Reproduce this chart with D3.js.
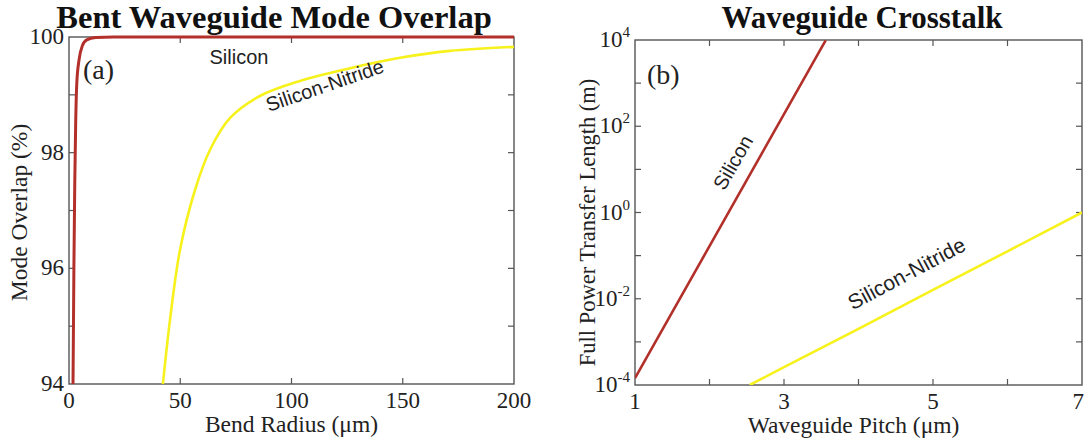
<!DOCTYPE html>
<html>
<head>
<meta charset="utf-8">
<script src="https://cdn.jsdelivr.net/npm/d3@7/dist/d3.min.js"></script>
<style>
  html, body { margin: 0; padding: 0; background: #fff; }
  svg { display: block; }
</style>
</head>
<body>
<svg id="fig" width="1084" height="442"></svg>
<script>
// ---- Panel (a): bent waveguide mode overlap ----
const bendRadiusSi = [1.8, 2.2, 2.6, 3.0, 3.5, 4.5, 6, 8, 12, 20, 60, 200];
const overlapSi    = [94, 96, 97.5, 98.5, 99.2, 99.6, 99.85, 99.95, 99.99, 100, 100, 100];
const bendRadiusSiN = [42.2, 45.4, 49.9, 56.6, 63.4, 72.4, 85.8, 103.8, 126.3, 148.8, 171.2, 200];
const overlapSiN    = [94, 95.11, 96.32, 97.35, 98.05, 98.6, 98.98, 99.24, 99.46, 99.64, 99.76, 99.83];
const radiusTicks = [0, 50, 100, 150, 200];
const overlapTicks = [94, 95, 96, 97, 98, 99, 100];
const overlapLabels = [94, 96, 98, 100];

// ---- Panel (b): waveguide crosstalk ----
const pitchSi = [1, 1.5, 2, 2.5, 3, 3.5, 3.56];
const transferSi = [1.45e-4, 4.9e-3, 0.166, 5.6, 190, 6500, 9800];
const pitchSiN = [2.54, 3, 4, 5, 6, 7];
const transferSiN = [1e-4, 2.6e-4, 2.0e-3, 0.016, 0.126, 1.0];
const pitchTicks = [1, 2, 3, 4, 5, 6, 7];
const pitchLabels = [1, 3, 5, 7];
const lengthTicks = [1e-4, 1e-3, 1e-2, 1e-1, 1, 10, 100, 1e3, 1e4];
const lengthLabelExp = [-4, -2, 0, 2, 4];

const RED = "#b3302a";
const YELLOW = "#f7f11c";
const FRAME = "#555";
const INK = "#222";
const SERIF = "'Liberation Serif', 'Times New Roman', serif";
const SANS = "'Liberation Sans', Arial, sans-serif";
const TICK_FS = 23;
const LABEL_FS = 23.5;

const svg = d3.select("#fig");

function frame(g, w, h) {
  g.append("rect").attr("x", 0).attr("y", 0).attr("width", w).attr("height", h)
    .attr("fill", "none").attr("stroke", FRAME).attr("stroke-width", 1.4);
}

function inwardTicks(g, x, y, w, h, xTicks, yTicks, len) {
  const t = g.append("g").attr("stroke", FRAME).attr("stroke-width", 1.2);
  xTicks.forEach(v => {
    t.append("line").attr("x1", x(v)).attr("x2", x(v)).attr("y1", h).attr("y2", h - len);
    t.append("line").attr("x1", x(v)).attr("x2", x(v)).attr("y1", 0).attr("y2", len);
  });
  yTicks.forEach(v => {
    t.append("line").attr("x1", 0).attr("x2", len).attr("y1", y(v)).attr("y2", y(v));
    t.append("line").attr("x1", w).attr("x2", w - len).attr("y1", y(v)).attr("y2", y(v));
  });
}

// ---------- Panel (a) ----------
{
  const L = 69, T = 37, W = 445, H = 347;
  const g = svg.append("g").attr("transform", `translate(${L},${T})`);
  const x = d3.scaleLinear().domain([0, 200]).range([0, W]);
  const y = d3.scaleLinear().domain([94, 100]).range([H, 0]);

  g.append("clipPath").attr("id", "clipA").append("rect")
    .attr("x", -2).attr("y", -3).attr("width", W + 4).attr("height", H + 3);

  frame(g, W, H);
  inwardTicks(g, x, y, W, H, radiusTicks.slice(1, -1), overlapTicks.slice(1, -1), 6);

  const smoothGen = d3.line().x(d => x(d[0])).y(d => y(d[1])).curve(d3.curveCatmullRom.alpha(0.5));
  const monoGen = d3.line().x(d => x(d[0])).y(d => y(d[1])).curve(d3.curveMonotoneX);
  g.append("path").datum(d3.zip(bendRadiusSiN, overlapSiN)).attr("d", smoothGen)
    .attr("fill", "none").attr("stroke", YELLOW).attr("stroke-width", 2.6)
    .attr("clip-path", "url(#clipA)");
  g.append("path").datum(d3.zip(bendRadiusSi, overlapSi)).attr("d", monoGen)
    .attr("fill", "none").attr("stroke", RED).attr("stroke-width", 3)
    .attr("clip-path", "url(#clipA)");

  // tick labels
  radiusTicks.forEach(v => {
    g.append("text").attr("x", x(v)).attr("y", H + 24).attr("text-anchor", "middle")
      .attr("font-family", SERIF).attr("font-size", TICK_FS).attr("fill", INK).text(v);
  });
  overlapLabels.forEach(v => {
    g.append("text").attr("x", -5).attr("y", y(v) + 7).attr("text-anchor", "end")
      .attr("font-family", SERIF).attr("font-size", TICK_FS).attr("fill", INK).text(v);
  });

  g.append("text").attr("x", W / 2).attr("y", H + 48).attr("text-anchor", "middle")
    .attr("font-family", SERIF).attr("font-size", LABEL_FS).attr("fill", INK).text("Bend Radius (μm)");
  g.append("text").attr("transform", `translate(${-42},${H / 2 + 2}) rotate(-90)`)
    .attr("text-anchor", "middle").attr("font-family", SERIF).attr("font-size", LABEL_FS)
    .attr("fill", INK).text("Mode Overlap (%)");

  svg.append("text").attr("x", 274).attr("y", 28).attr("text-anchor", "middle")
    .attr("font-family", SERIF).attr("font-weight", "bold").attr("font-size", 32.5)
    .attr("fill", "#111").text("Bent Waveguide Mode Overlap");

  g.append("text").attr("x", 14).attr("y", 42).attr("font-family", SERIF)
    .attr("font-size", 28).attr("fill", INK).text("(a)");
  g.append("text").attr("x", 170).attr("y", 27).attr("text-anchor", "middle")
    .attr("font-family", SANS).attr("font-size", 20).attr("fill", INK).text("Silicon");
  g.append("text").attr("transform", `translate(${258},${55}) rotate(-19)`)
    .attr("text-anchor", "middle").attr("font-family", SANS).attr("font-size", 20)
    .attr("fill", INK).text("Silicon-Nitride");
}

// ---------- Panel (b) ----------
{
  const L = 635, T = 40, W = 447, H = 345;
  const g = svg.append("g").attr("transform", `translate(${L},${T})`);
  const x = d3.scaleLinear().domain([1, 7]).range([0, W]);
  const y = d3.scaleLog().domain([1e-4, 1e4]).range([H, 0]);

  g.append("clipPath").attr("id", "clipB").append("rect")
    .attr("x", 0).attr("y", 0).attr("width", W).attr("height", H);

  frame(g, W, H);
  inwardTicks(g, x, y, W, H, pitchTicks.slice(1, -1), lengthTicks.slice(1, -1), 6);

  const lineGen = d3.line().x(d => x(d[0])).y(d => y(d[1]));
  g.append("path").datum(d3.zip(pitchSiN, transferSiN)).attr("d", lineGen)
    .attr("fill", "none").attr("stroke", YELLOW).attr("stroke-width", 2.6)
    .attr("clip-path", "url(#clipB)");
  g.append("path").datum(d3.zip(pitchSi, transferSi)).attr("d", lineGen)
    .attr("fill", "none").attr("stroke", RED).attr("stroke-width", 2.6)
    .attr("clip-path", "url(#clipB)");

  pitchLabels.forEach(v => {
    const last = v === pitchLabels[pitchLabels.length - 1];
    g.append("text").attr("x", last ? W + 2 : x(v)).attr("y", H + 24)
      .attr("text-anchor", last ? "end" : "middle")
      .attr("font-family", SERIF).attr("font-size", TICK_FS).attr("fill", INK).text(v);
  });
  lengthLabelExp.forEach(e => {
    const t = g.append("text").attr("x", -5).attr("y", y(Math.pow(10, e)) + 7)
      .attr("text-anchor", "end").attr("font-family", SERIF).attr("font-size", TICK_FS)
      .attr("fill", INK);
    t.append("tspan").text("10");
    t.append("tspan").attr("font-size", 15).attr("dy", -10).text(e < 0 ? "-" + (-e) : String(e));
  });

  g.append("text").attr("x", W / 2 - 5).attr("y", H + 48).attr("text-anchor", "middle")
    .attr("font-family", SERIF).attr("font-size", LABEL_FS).attr("fill", INK).text("Waveguide Pitch (μm)");
  g.append("text").attr("transform", `translate(${-40},${H / 2 + 10}) rotate(-90)`)
    .attr("text-anchor", "middle").attr("font-family", SERIF).attr("font-size", 22.5)
    .attr("fill", INK).text("Full Power Transfer Length (m)");

  svg.append("text").attr("x", 862).attr("y", 28).attr("text-anchor", "middle")
    .attr("font-family", SERIF).attr("font-weight", "bold").attr("font-size", 31)
    .attr("fill", "#111").text("Waveguide Crosstalk");

  g.append("text").attr("x", 12).attr("y", 44).attr("font-family", SERIF)
    .attr("font-size", 28).attr("fill", INK).text("(b)");
  g.append("text").attr("transform", `translate(${104},${126}) rotate(-60)`)
    .attr("text-anchor", "middle").attr("font-family", SANS).attr("font-size", 20)
    .attr("fill", INK).text("Silicon");
  g.append("text").attr("transform", `translate(${275},${240}) rotate(-28)`)
    .attr("text-anchor", "middle").attr("font-family", SANS).attr("font-size", 21)
    .attr("fill", INK).text("Silicon-Nitride");
}
</script>
</body>
</html>
